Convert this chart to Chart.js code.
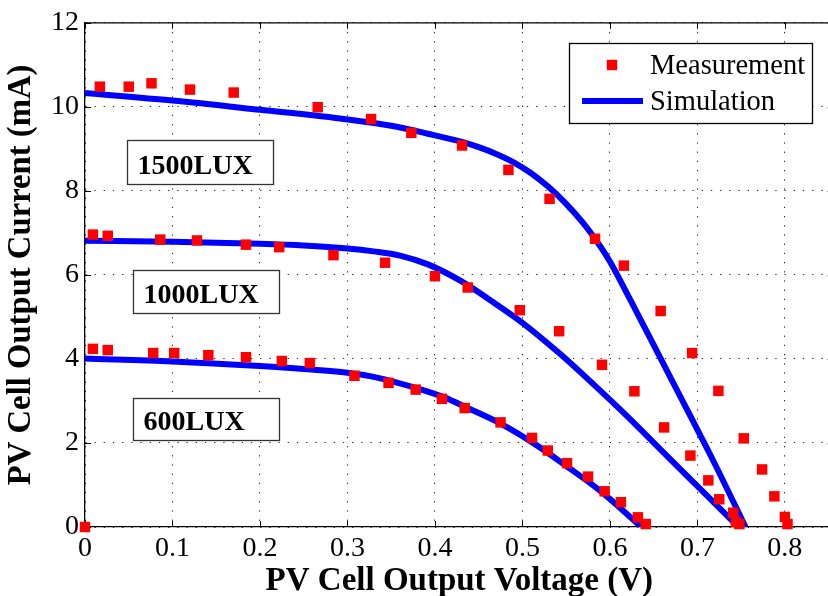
<!DOCTYPE html>
<html>
<head>
<meta charset="utf-8">
<script src="https://cdn.jsdelivr.net/npm/chart.js@4.4.1/dist/chart.umd.min.js"></script>
<style>
html, body { margin: 0; padding: 0; overflow: hidden; background: #ffffff; }
canvas { display: block; }
</style>
</head>
<body>
<canvas id="chart" width="841" height="596" style="width:841px;height:596px"></canvas>
<script>
// ---------------- data ----------------
const xTicks = [0, 0.1, 0.2, 0.3, 0.4, 0.5, 0.6, 0.7, 0.8];
const xTickLabels = ['0', '0.1', '0.2', '0.3', '0.4', '0.5', '0.6', '0.7', '0.8'];
const yTicks = [0, 2, 4, 6, 8, 10, 12];
const yTickLabels = ['0', '2', '4', '6', '8', '10', '12'];

const meas1500V = [0.017, 0.050, 0.076, 0.120, 0.170, 0.266, 0.327, 0.373, 0.431, 0.484, 0.531, 0.583, 0.616, 0.658, 0.694, 0.724, 0.753, 0.774, 0.788, 0.800, 0.803];
const meas1500I = [10.48, 10.48, 10.56, 10.41, 10.34, 9.99, 9.71, 9.38, 9.08, 8.50, 7.81, 6.86, 6.22, 5.14, 4.14, 3.24, 2.11, 1.37, 0.73, 0.24, 0.07];

const meas1000V = [0.009, 0.026, 0.086, 0.128, 0.184, 0.222, 0.284, 0.343, 0.400, 0.4375, 0.497, 0.542, 0.591, 0.628, 0.662, 0.692, 0.7125, 0.725, 0.741, 0.744, 0.748];
const meas1000I = [6.96, 6.93, 6.84, 6.82, 6.72, 6.66, 6.47, 6.29, 5.97, 5.70, 5.16, 4.66, 3.86, 3.23, 2.37, 1.70, 1.11, 0.66, 0.34, 0.12, 0.07];

const meas600V = [0, 0.009, 0.026, 0.078, 0.102, 0.141, 0.184, 0.225, 0.257, 0.308, 0.347, 0.378, 0.408, 0.434, 0.475, 0.511, 0.529, 0.551, 0.575, 0.594, 0.6125, 0.632, 0.641];
const meas600I = [0, 4.24, 4.21, 4.14, 4.14, 4.09, 4.04, 3.95, 3.90, 3.60, 3.43, 3.27, 3.05, 2.83, 2.49, 2.12, 1.82, 1.52, 1.20, 0.85, 0.59, 0.23, 0.07];

const sim1500V = [0, 0.1, 0.2, 0.3, 0.35, 0.392, 0.43, 0.45, 0.47, 0.49, 0.51, 0.53, 0.55, 0.57, 0.585, 0.60, 0.615, 0.63, 0.66, 0.69, 0.72, 0.755];
const sim1500I = [10.33, 10.15, 9.93, 9.70, 9.55, 9.36, 9.17, 9.04, 8.88, 8.68, 8.42, 8.09, 7.69, 7.22, 6.80, 6.32, 5.74, 5.14, 3.93, 2.72, 1.50, 0];

const sim1000V = [0, 0.1, 0.2, 0.25, 0.3, 0.33, 0.36, 0.392, 0.43, 0.468, 0.5, 0.5436, 0.581, 0.619, 0.66, 0.70, 0.747];
const sim1000I = [6.81, 6.79, 6.74, 6.70, 6.63, 6.56, 6.46, 6.25, 5.85, 5.33, 4.86, 4.11, 3.40, 2.65, 1.80, 0.97, 0];

const sim600V = [0, 0.1, 0.2, 0.25, 0.3, 0.335, 0.373, 0.41, 0.4375, 0.475, 0.513, 0.551, 0.589, 0.636];
const sim600I = [4.01, 3.94, 3.83, 3.76, 3.67, 3.55, 3.34, 3.09, 2.83, 2.46, 1.99, 1.44, 0.86, 0];

const legendLabels = ['Measurement', 'Simulation'];
const luxLabels = ['1500LUX', '1000LUX', '600LUX'];
// label box anchors in data units (left V, right V, top I, bottom I)
const luxBoxLeft = [0.0477, 0.0545, 0.0545];
const luxBoxRight = [0.2148, 0.2216, 0.2216];
const luxBoxTop = [9.21, 6.11, 3.08];
const luxBoxBottom = [8.17, 5.09, 2.06];

// ---------------- styles ----------------
const SERIF = "'Liberation Serif', 'Times New Roman', Times, serif";
const RED = '#ff0000';
const BLUE = '#0000ff';
const TICK = 6;

function pts(vs, is) { return vs.map((v, i) => ({ x: v, y: is[i] })); }

function measDS(vs, is, label) {
  return {
    label: label,
    data: pts(vs, is),
    showLine: false,
    pointStyle: 'rect',
    pointRadius: 7.4,
    pointHoverRadius: 7.4,
    backgroundColor: RED,
    borderColor: RED,
    pointBorderWidth: 0,
    borderWidth: 0,
    clip: false
  };
}
function simDS(vs, is, label) {
  return {
    label: label,
    data: pts(vs, is),
    showLine: true,
    pointRadius: 0,
    borderColor: BLUE,
    backgroundColor: BLUE,
    borderWidth: 6,
    fill: false,
    cubicInterpolationMode: 'monotone',
    borderCapStyle: 'butt',
    borderJoinStyle: 'round'
  };
}

const framePlugin = {
  id: 'frame',
  beforeDatasetsDraw(chart) {
    const { ctx, chartArea: a, scales: { x, y } } = chart;
    ctx.save();
    ctx.strokeStyle = '#000';
    ctx.lineWidth = 1.3;
    ctx.beginPath();
    ctx.moveTo(a.left, a.top);
    ctx.lineTo(a.right, a.top);
    ctx.lineTo(a.right, a.bottom);
    ctx.stroke();
    ctx.lineWidth = 1;
    ctx.beginPath();
    xTicks.forEach(v => {
      const px = Math.round(x.getPixelForValue(v)) + 0.5;
      ctx.moveTo(px, a.bottom); ctx.lineTo(px, a.bottom - TICK);
      ctx.moveTo(px, a.top); ctx.lineTo(px, a.top + TICK);
    });
    yTicks.forEach(v => {
      const py = Math.round(y.getPixelForValue(v)) + 0.5;
      ctx.moveTo(a.left, py); ctx.lineTo(a.left + TICK, py);
      ctx.moveTo(a.right, py); ctx.lineTo(a.right - TICK, py);
    });
    ctx.stroke();
    ctx.restore();
  },
  afterDatasetsDraw(chart) {
    const { ctx, scales: { x, y } } = chart;
    ctx.save();
    // LUX label boxes
    ctx.font = 'bold 28px ' + SERIF;
    ctx.textBaseline = 'alphabetic';
    ctx.textAlign = 'left';
    luxLabels.forEach((t, i) => {
      const l = Math.round(x.getPixelForValue(luxBoxLeft[i])) + 0.5;
      const r = Math.round(x.getPixelForValue(luxBoxRight[i])) + 0.5;
      const tp = Math.round(y.getPixelForValue(luxBoxTop[i])) + 0.5;
      const b = Math.round(y.getPixelForValue(luxBoxBottom[i])) + 0.5;
      ctx.fillStyle = '#fff';
      ctx.fillRect(l, tp, r - l, b - tp);
      ctx.strokeStyle = '#333';
      ctx.lineWidth = 1.3;
      ctx.strokeRect(l, tp, r - l, b - tp);
      ctx.fillStyle = '#000';
      ctx.fillText(t, l + 10, b - 11);
    });
    // legend
    const L = 569.5, T = 43.5, W = 243, H = 80;
    ctx.fillStyle = '#fff';
    ctx.fillRect(L, T, W, H);
    ctx.strokeStyle = '#000';
    ctx.lineWidth = 1.3;
    ctx.strokeRect(L, T, W, H);
    ctx.fillStyle = RED;
    ctx.fillRect(612 - 5.2, 65 - 5.2, 10.4, 10.4);
    ctx.strokeStyle = BLUE;
    ctx.lineWidth = 6;
    ctx.beginPath();
    ctx.moveTo(582, 101);
    ctx.lineTo(643, 101);
    ctx.stroke();
    ctx.fillStyle = '#000';
    ctx.font = '28.5px ' + SERIF;
    ctx.fillText(legendLabels[0], 650, 74);
    ctx.fillText(legendLabels[1], 650, 110);
    ctx.restore();
  }
};

const gridOpts = { color: 'rgba(0,0,0,0.85)', lineWidth: 1, drawTicks: false };
const borderOpts = { display: true, color: '#000', width: 1.3, dash: [1.3, 7.9] };

new Chart(document.getElementById('chart'), {
  type: 'scatter',
  data: {
    datasets: [
      measDS(meas1500V, meas1500I, 'Measurement 1500LUX'),
      measDS(meas1000V, meas1000I, 'Measurement 1000LUX'),
      measDS(meas600V, meas600I, 'Measurement 600LUX'),
      simDS(sim1500V, sim1500I, 'Simulation 1500LUX'),
      simDS(sim1000V, sim1000I, 'Simulation 1000LUX'),
      simDS(sim600V, sim600I, 'Simulation 600LUX')
    ]
  },
  options: {
    responsive: false,
    devicePixelRatio: 1,
    animation: false,
    events: [],
    layout: { padding: { top: 20, right: 3, bottom: 0, left: 0 } },
    plugins: { legend: { display: false }, tooltip: { enabled: false } },
    scales: {
      x: {
        type: 'linear',
        min: 0,
        max: 0.8557,
        afterBuildTicks: s => { s.ticks = xTicks.map(v => ({ value: v })); },
        afterFit: s => { s.height = 69; },
        ticks: {
          callback: (v, i) => xTickLabels[i],
          font: { family: SERIF, size: 28 },
          color: '#000',
          padding: 5,
          maxRotation: 0,
          autoSkip: false
        },
        grid: gridOpts,
        border: borderOpts,
        title: {
          display: true,
          text: 'PV Cell Output Voltage (V)',
          font: { family: SERIF, size: 33, weight: 'bold', lineHeight: 0.9 },
          color: '#000',
          padding: { top: 0, bottom: 0 }
        }
      },
      y: {
        type: 'linear',
        min: 0,
        max: 12,
        afterBuildTicks: s => { s.ticks = yTicks.map(v => ({ value: v })); },
        afterFit: s => { s.width = 85; },
        ticks: {
          callback: (v, i) => yTickLabels[i],
          font: { family: SERIF, size: 28 },
          color: '#000',
          padding: 6,
          autoSkip: false
        },
        grid: gridOpts,
        border: borderOpts,
        title: {
          display: true,
          text: 'PV Cell Output Current (mA)',
          font: { family: SERIF, size: 32.7, weight: 'bold', lineHeight: 0.9 },
          color: '#000',
          padding: { top: 7, bottom: 0 }
        }
      }
    }
  },
  plugins: [framePlugin]
});
</script>
</body>
</html>
